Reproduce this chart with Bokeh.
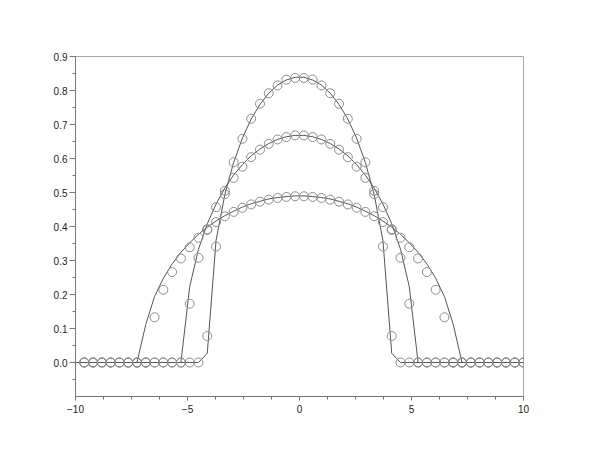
from bokeh.plotting import figure
from bokeh.models import FixedTicker, Range1d, PrintfTickFormatter
from bokeh.embed import file_html
from bokeh.resources import INLINE

# grid positions (x)
x = [-10.000, -9.608, -9.216, -8.824, -8.431, -8.039, -7.647, -7.255, -6.863, -6.471,
     -6.078, -5.686, -5.294, -4.902, -4.510, -4.118, -3.725, -3.333, -2.941, -2.549,
     -2.157, -1.765, -1.373, -0.980, -0.588, -0.196, 0.196, 0.588, 0.980, 1.373,
     1.765, 2.157, 2.549, 2.941, 3.333, 3.725, 4.118, 4.510, 4.902, 5.294,
     5.686, 6.078, 6.471, 6.863, 7.255, 7.647, 8.039, 8.431, 8.824, 9.216,
     9.608, 10.000]

# exact curves (lines)
line_top = [0, 0, 0, 0, 0, 0, 0, 0, 0, 0, 0, 0, 0, 0, 0,
            0.027, 0.359, 0.494, 0.588, 0.660, 0.716, 0.759, 0.792, 0.816, 0.831, 0.839,
            0.839, 0.831, 0.816, 0.792, 0.759, 0.716, 0.660, 0.588, 0.494, 0.359, 0.027,
            0, 0, 0, 0, 0, 0, 0, 0, 0, 0, 0, 0, 0, 0, 0]
line_mid = [0, 0, 0, 0, 0, 0, 0, 0, 0, 0, 0, 0, 0,
            0.223, 0.333, 0.408, 0.466, 0.513, 0.551, 0.582, 0.608, 0.628, 0.644, 0.656, 0.664, 0.668,
            0.668, 0.664, 0.656, 0.644, 0.628, 0.608, 0.582, 0.551, 0.513, 0.466, 0.408, 0.333, 0.223,
            0, 0, 0, 0, 0, 0, 0, 0, 0, 0, 0, 0, 0]
line_low = [0, 0, 0, 0, 0, 0, 0, 0,
            0.112, 0.194, 0.248, 0.290, 0.324, 0.352, 0.377, 0.398, 0.416, 0.432, 0.445, 0.457,
            0.467, 0.474, 0.481, 0.485, 0.488, 0.490,
            0.490, 0.488, 0.485, 0.481, 0.474, 0.467,
            0.457, 0.445, 0.432, 0.416, 0.398, 0.377, 0.352, 0.324, 0.290, 0.248, 0.194, 0.112,
            0, 0, 0, 0, 0, 0, 0, 0]

# numerical solution (circles), on grid points 1..51
x_num = [-9.608, -9.216, -8.824, -8.431, -8.039, -7.647, -7.255, -6.863, -6.471,
         -6.078, -5.686, -5.294, -4.902, -4.510, -4.118, -3.725, -3.333, -2.941, -2.549,
         -2.157, -1.765, -1.373, -0.980, -0.588, -0.196, 0.196, 0.588, 0.980, 1.373,
         1.765, 2.157, 2.549, 2.941, 3.333, 3.725, 4.118, 4.510, 4.902, 5.294,
         5.686, 6.078, 6.471, 6.863, 7.255, 7.647, 8.039, 8.431, 8.824, 9.216,
         9.608, 10.000]
circ_top = [0, 0, 0, 0, 0, 0, 0, 0, 0, 0, 0, 0, 0, 0,
            0.078, 0.341, 0.505, 0.589, 0.658, 0.717, 0.761, 0.792, 0.815, 0.832, 0.837,
            0.837, 0.832, 0.815, 0.792, 0.761, 0.717, 0.658, 0.589, 0.505, 0.341, 0.078,
            0, 0, 0, 0, 0, 0, 0, 0, 0, 0, 0, 0, 0, 0, 0]
circ_mid = [0, 0, 0, 0, 0, 0, 0, 0, 0, 0, 0, 0,
            0.173, 0.308, 0.390, 0.457, 0.495, 0.543, 0.576, 0.604, 0.626, 0.643, 0.656, 0.663, 0.668,
            0.668, 0.663, 0.656, 0.643, 0.626, 0.604, 0.576, 0.543, 0.495, 0.457, 0.390, 0.308, 0.173,
            0, 0, 0, 0, 0, 0, 0, 0, 0, 0, 0, 0, 0]
circ_low = [0, 0, 0, 0, 0, 0, 0, 0,
            0.133, 0.214, 0.266, 0.306, 0.339, 0.367, 0.392, 0.413, 0.430, 0.443, 0.455,
            0.465, 0.473, 0.479, 0.484, 0.487, 0.489,
            0.489, 0.487, 0.484, 0.479, 0.473, 0.465,
            0.455, 0.443, 0.430, 0.413, 0.392, 0.367, 0.339, 0.306, 0.266, 0.214, 0.133,
            0, 0, 0, 0, 0, 0, 0, 0, 0]

x_ticks = [-10, -5, 0, 5, 10]
x_minor = [-8.75, -7.5, -6.25, -3.75, -2.5, -1.25, 1.25, 2.5, 3.75, 6.25, 7.5, 8.75]
y_ticks = [0.0, 0.1, 0.2, 0.3, 0.4, 0.5, 0.6, 0.7, 0.8, 0.9]
y_minor = [-0.05, 0.05, 0.15, 0.25, 0.35, 0.45, 0.55, 0.65, 0.75, 0.85]

p = figure(frame_width=448, frame_height=340,
           x_range=Range1d(-10, 10), y_range=Range1d(-0.1, 0.9),
           output_backend="svg", toolbar_location=None,
           min_border_left=75, min_border_right=60, min_border_top=56, min_border_bottom=48)
p.background_fill_color = "white"
p.border_fill_color = "white"
p.outline_line_color = "#a8a8a8"
p.xgrid.grid_line_color = None
p.ygrid.grid_line_color = None

for ax in (p.xaxis[0], p.yaxis[0]):
    ax.axis_line_color = "#777777"
    ax.major_tick_line_color = "#777777"
    ax.minor_tick_line_color = "#777777"
    ax.major_tick_in = 0
    ax.minor_tick_in = 0
    ax.major_label_text_font = "Liberation Sans"
    ax.major_label_text_font_size = "10px"
    ax.major_label_text_color = "#222222"

p.xaxis.ticker = FixedTicker(ticks=x_ticks, minor_ticks=x_minor)
p.xaxis.major_tick_out = 4
p.xaxis.minor_tick_out = 3
p.xaxis.major_label_standoff = 4

p.yaxis.ticker = FixedTicker(ticks=y_ticks, minor_ticks=y_minor)
p.yaxis.formatter = PrintfTickFormatter(format="%.1f")
p.yaxis.major_tick_out = 6
p.yaxis.minor_tick_out = 3
p.yaxis.major_label_standoff = 2

for yl in (line_top, line_mid, line_low):
    p.line(x, yl, line_color="#555555", line_width=1)

for yc in (circ_top, circ_mid, circ_low):
    p.scatter(x_num, yc, marker="circle", size=9, fill_color=None,
              line_color="#8c8c8c", line_width=1)

open("out.html", "w").write(file_html(p, INLINE))
